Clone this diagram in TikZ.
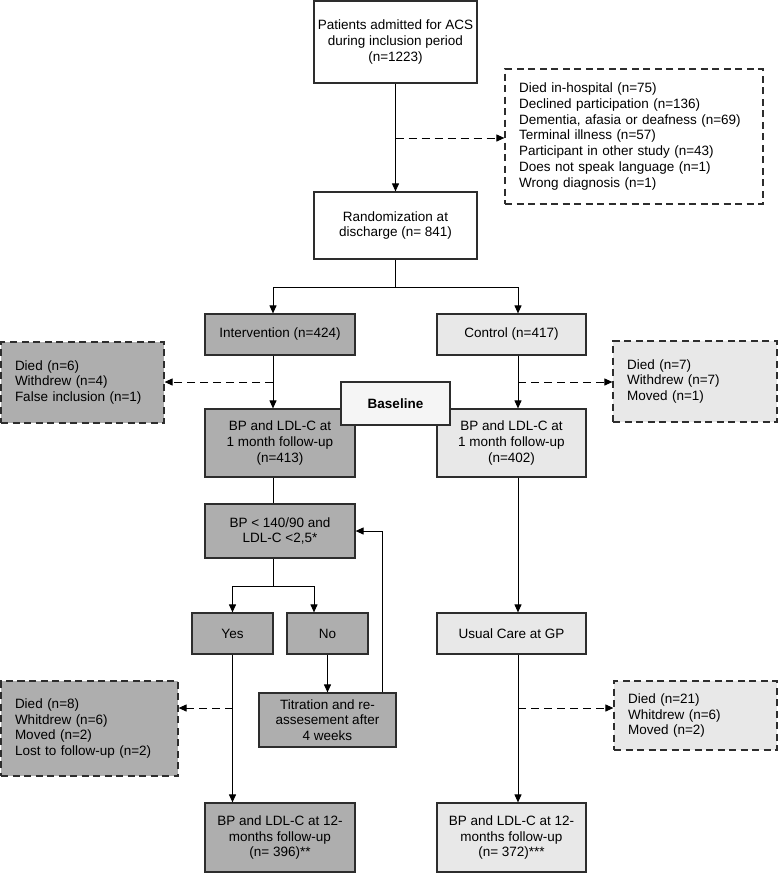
\documentclass[tikz,border=0pt]{standalone}
\usepackage{fontspec}
\setmainfont{Liberation Sans}
\usetikzlibrary{arrows.meta}
\definecolor{darkfill}{RGB}{174,174,174}
\definecolor{lightfill}{RGB}{232,232,232}
\definecolor{basefill}{RGB}{245,245,245}
\definecolor{bordc}{RGB}{45,45,45}
\newcommand\myfs{\fontsize{13.5}{15.7}\selectfont}
\tikzset{
  box/.style={draw=bordc, line width=1.2pt, inner sep=0pt, align=center, font=\myfs, anchor=center},
  wbox/.style={box, fill=white},
  dkbox/.style={box, fill=darkfill},
  ltbox/.style={box, fill=lightfill},
  dbox/.style={box, dash pattern=on 7pt off 4.5pt, align=left, inner xsep=14pt, inner ysep=0pt},
  conn/.style={line width=1pt, black},
  arr/.style={conn, -{Triangle[length=8pt,width=7pt]}},
  darr/.style={arr, dash pattern=on 8pt off 5pt},
}
\begin{document}
\begin{tikzpicture}[x=1pt,y=-1pt]
\useasboundingbox (0,0) rectangle (778,873);
% nodes
\node[wbox, minimum width=163pt, minimum height=82pt] (top) at (395.5,42) {Patients admitted for ACS\\during inclusion period\\(n=1223)};
\node[wbox, minimum width=163pt, minimum height=67pt] (rand) at (395.5,225.5) {Randomization at\\discharge (n= 841)};
\node[dbox, fill=white, text width=230pt, minimum height=135pt] (excl) at (634,136.5) {Died in-hospital (n=75)\\Declined participation (n=136)\\Dementia, afasia or deafness (n=69)\\Terminal illness (n=57)\\Participant in other study (n=43)\\Does not speak language (n=1)\\Wrong diagnosis (n=1)};
\node[dkbox, minimum width=150pt, minimum height=41pt] (interv) at (280,334.5) {Intervention (n=424)};
\node[ltbox, minimum width=149pt, minimum height=41pt] (ctrl) at (511.5,334.5) {Control (n=417)};
\node[dbox, fill=darkfill, text width=135pt, minimum height=81pt] (ld1) at (82.5,382.5) {Died (n=6)\\Withdrew (n=4)\\False inclusion (n=1)};
\node[dbox, fill=lightfill, text width=136pt, minimum height=81pt] (rd1) at (695,381.5) {Died (n=7)\\Withdrew (n=7)\\Moved (n=1)};
\node[dkbox, minimum width=150pt, minimum height=68pt] (bpi) at (280,443) {BP and LDL-C at\\1 month follow-up\\(n=413)};
\node[ltbox, minimum width=149pt, minimum height=68pt] (bpc) at (511.5,443) {BP and LDL-C at\\1 month follow-up\\(n=402)};
\node[dkbox, minimum width=150pt, minimum height=54pt] (bplt) at (280,531) {BP < 140/90 and\\LDL-C <2,5*};
\node[dkbox, minimum width=81pt, minimum height=41pt] (yes) at (232.5,633.5) {Yes};
\node[dkbox, minimum width=81pt, minimum height=41pt] (no) at (327.5,633.5) {No};
\node[ltbox, minimum width=149pt, minimum height=41pt] (usual) at (511.5,633.5) {Usual Care at GP};
\node[dkbox, minimum width=137pt, minimum height=54pt] (tit) at (327.5,720) {Titration and re-\\assesement after\\4 weeks};
\node[dbox, fill=darkfill, text width=149pt, minimum height=95pt] (ld2) at (89.5,728.5) {Died (n=8)\\Whitdrew (n=6)\\Moved (n=2)\\Lost to follow-up (n=2)};
\node[dbox, fill=lightfill, text width=135pt, minimum height=69pt] (rd2) at (695.5,715.5) {Died (n=21)\\Whitdrew (n=6)\\Moved (n=2)};
\node[dkbox, minimum width=150pt, minimum height=69pt] (mi) at (280,837.5) {BP and LDL-C at 12-\\months follow-up\\(n= 396)**};
\node[ltbox, minimum width=149pt, minimum height=69pt] (mc) at (511.5,837.5) {BP and LDL-C at 12-\\months follow-up\\(n= 372)***};
% helper coordinates
\coordinate (xl) at (273,0);
\coordinate (xr) at (518,0);
\coordinate (xno) at (314,0);
\coordinate (fb) at (382,0);
\coordinate (j1) at (395.5,138);
\coordinate (split) at (395.5,287);
\coordinate (jl1) at (273,382);
\coordinate (jr1) at (518,382);
\coordinate (split2) at (273,586);
\coordinate (jl2) at (232.5,708);
\coordinate (jr2) at (518,708);
% connectors
\draw[arr] (top.south) -- (rand.north);
\draw[darr] (j1) -- (j1 -| excl.west);
\draw[conn] (rand.south) -- (split);
\draw[arr] (split) -| (interv.north -| xl);
\draw[arr] (split) -| (ctrl.north -| xr);
\draw[darr] (jl1) -- (jl1 -| ld1.east);
\draw[darr] (jr1) -- (jr1 -| rd1.west);
\draw[arr] (interv.south -| xl) -- (bpi.north -| xl);
\draw[arr] (ctrl.south -| xr) -- (bpc.north -| xr);
\draw[conn] (bpi.south -| xl) -- (bplt.north -| xl);
\draw[conn] (bplt.south -| xl) -- (split2);
\draw[arr] (split2) -| (yes.north);
\draw[arr] (split2) -| (no.north -| xno);
\draw[arr] (no.south) -- (tit.north);
\draw[arr] (tit.north -| fb) |- (bplt.east);
\draw[arr] (yes.south) -- (mi.north -| yes.south);
\draw[darr] (jl2) -- (jl2 -| ld2.east);
\draw[arr] (bpc.south -| xr) -- (usual.north -| xr);
\draw[arr] (usual.south -| xr) -- (mc.north -| xr);
\draw[darr] (jr2) -- (jr2 -| rd2.west);
% baseline label on top
\node[box, fill=basefill, minimum width=109pt, minimum height=43pt, font=\myfs\bfseries] (base) at (395.5,403.5) {Baseline};
\end{tikzpicture}
\end{document}
